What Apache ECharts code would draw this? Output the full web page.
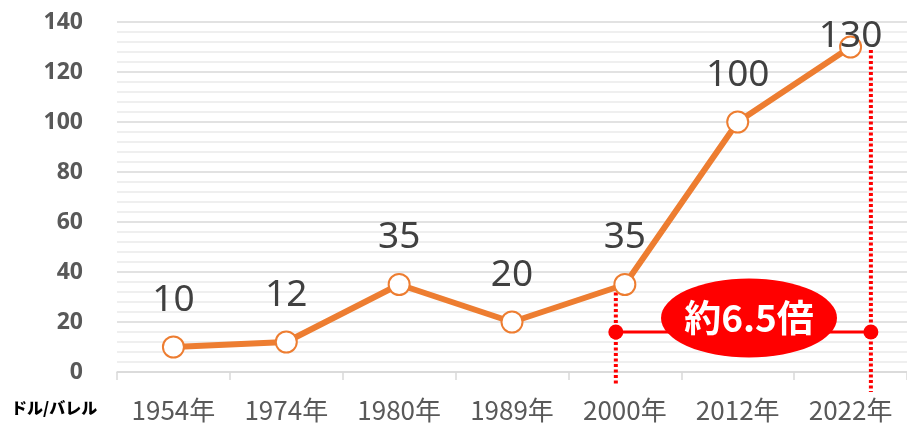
<!DOCTYPE html>
<html>
<head>
<meta charset="utf-8">
<script src="https://cdn.jsdelivr.net/npm/echarts@6/dist/echarts.min.js"></script>
<style>
  html, body { margin: 0; padding: 0; background: #fff; }
  #chart { width: 907px; height: 427px; }
</style>
</head>
<body>
<div id="chart"></div>
<script>
// data
const years = ['1954年', '1974年', '1980年', '1989年', '2000年', '2012年', '2022年']
const prices = [10, 12, 35, 20, 35, 100, 130]
const unitLabel = 'ドル/バレル'

// annotation: bracket from 2000 to 2022 (x in category index units)
const bracketX = [3.92, 6.18]
const bracketY = 16
const leftDotted = [[3.92, 34], [3.92, -5.2]]
const rightDotted = [[6.18, 128.8], [6.18, -8]]
const badgePos = [5.1, 21.6]
const badgeText = '約6.5倍'

const RED = '#FF0000'
const ORANGE = '#ED7D31'

const chart = echarts.init(document.getElementById('chart'))

const dotted = {
  color: RED,
  width: 4,
  type: [3, 2.5]
}

chart.setOption({
  animation: false,
  grid: { left: 117, right: 0, top: 22, bottom: 55 },
  xAxis: [{
    type: 'category',
    data: years,
    boundaryGap: true,
    axisLine: { lineStyle: { color: '#d9d9d9', width: 1.5 } },
    axisTick: { show: true, length: 8, lineStyle: { color: '#d9d9d9', width: 1.5 } },
    axisLabel: {
      color: '#595959',
      fontSize: 26,
      fontFamily: 'Noto Sans CJK JP',
      margin: 25
    }
  }, {
    type: 'value',
    min: -0.5,
    max: 6.5,
    show: false
  }],
  yAxis: {
    type: 'value',
    min: 0,
    max: 140,
    interval: 20,
    axisLine: { show: false },
    axisTick: { show: false },
    axisLabel: {
      color: '#595959',
      fontSize: 23,
      fontWeight: 'bold',
      fontFamily: 'Noto Sans',
      margin: 34
    },
    splitLine: { lineStyle: { color: '#d9d9d9', width: 1.5 } },
    minorTick: { show: false, splitNumber: 5 },
    minorSplitLine: { show: true, lineStyle: { color: '#efefef', width: 2 } }
  },
  graphic: [{
    type: 'text',
    left: 11,
    top: 400,
    style: {
      text: unitLabel,
      fill: '#000',
      font: '900 16px "Noto Sans CJK JP"'
    }
  }],
  series: [{
    type: 'line',
    xAxisIndex: 1,
    data: leftDotted,
    symbol: 'none',
    clip: false,
    lineStyle: dotted,
    z: 1
  }, {
    type: 'line',
    xAxisIndex: 1,
    data: rightDotted,
    symbol: 'none',
    clip: false,
    lineStyle: dotted,
    z: 1
  }, {
    type: 'line',
    xAxisIndex: 1,
    data: bracketX.map(x => [x, bracketY]),
    symbol: 'circle',
    symbolSize: 15,
    itemStyle: { color: RED },
    lineStyle: { color: RED, width: 3 },
    z: 2
  }, {
    type: 'scatter',
    xAxisIndex: 1,
    data: [badgePos],
    symbol: 'path://M0,1A1,1 0 1,1 2,1A1,1 0 1,1 0,1Z',
    symbolSize: [176, 79],
    itemStyle: { color: RED, opacity: 1 },
    label: {
      show: true,
      position: 'inside',
      formatter: badgeText,
      color: '#fff',
      fontSize: 37,
      fontWeight: 'bold',
      fontFamily: 'Noto Sans CJK JP'
    },
    z: 3
  }, {
    type: 'line',
    data: prices.map((v, i) => i === prices.length - 1
      ? { value: v, label: { position: 'inside', offset: [0, -11] } }
      : v),
    symbol: 'circle',
    symbolSize: 21,
    itemStyle: { color: '#fff', borderColor: ORANGE, borderWidth: 2 },
    lineStyle: { color: ORANGE, width: 6 },
    label: {
      show: true,
      position: 'top',
      distance: 17,
      color: '#404040',
      fontSize: 37,
      fontFamily: 'Noto Sans'
    },
    z: 5
  }]
})
</script>
</body>
</html>
